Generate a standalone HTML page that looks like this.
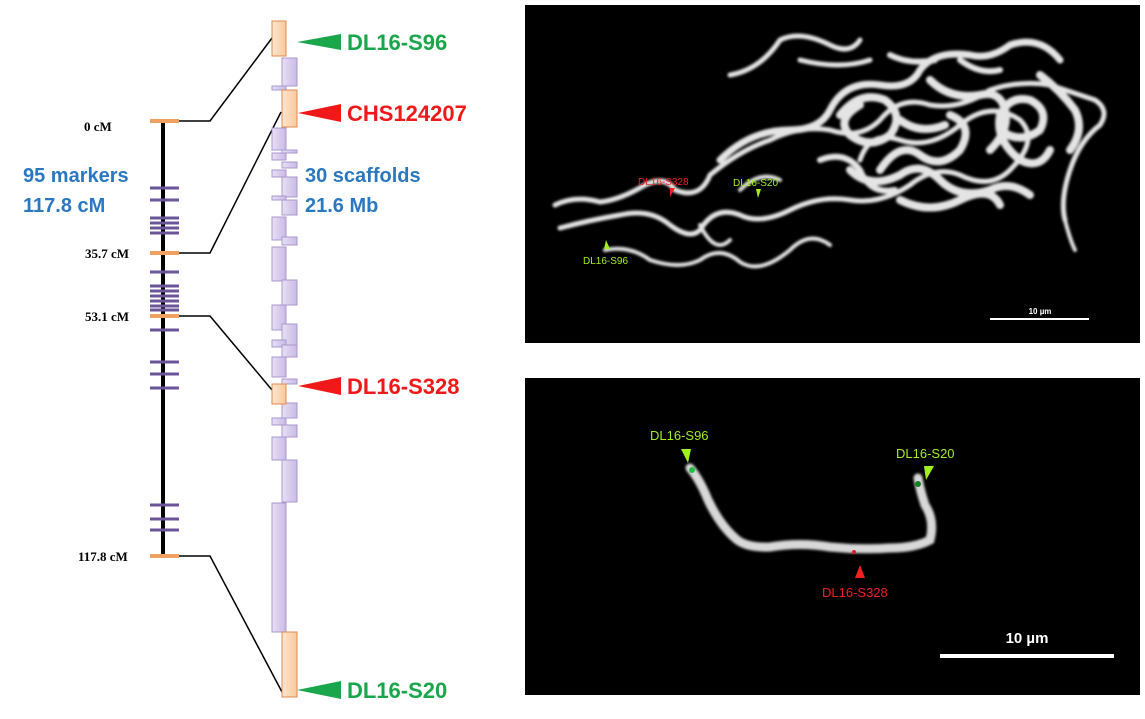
<!DOCTYPE html>
<html><head><meta charset="utf-8"><style>
html,body{margin:0;padding:0;background:#fff;width:1145px;height:719px;overflow:hidden}
svg{display:block}
.t{font-family:"Liberation Sans",sans-serif;font-weight:bold}
.s{font-family:"Liberation Serif",serif;font-weight:bold;font-size:13px}
</style></head><body>
<svg width="1145" height="719" viewBox="0 0 1145 719" xmlns="http://www.w3.org/2000/svg">
<defs>
<linearGradient id="pg" x1="0" x2="1"><stop offset="0" stop-color="#e8e0f5"/><stop offset="1" stop-color="#c9b9e6"/></linearGradient>
<linearGradient id="og" x1="0" x2="1"><stop offset="0" stop-color="#fde6d0"/><stop offset="1" stop-color="#f9c89c"/></linearGradient>
<filter id="bl"><feGaussianBlur stdDeviation="1.2"/></filter>
</defs>
<line x1="163" y1="121" x2="163" y2="556" stroke="#000" stroke-width="4"/>
<g stroke="#6a559a" stroke-width="3">
<line x1="150" y1="188" x2="179" y2="188"/><line x1="150" y1="200" x2="179" y2="200"/>
<line x1="150" y1="218" x2="179" y2="218"/><line x1="150" y1="223" x2="179" y2="223"/><line x1="150" y1="228" x2="179" y2="228"/><line x1="150" y1="233" x2="179" y2="233"/>
<line x1="150" y1="272" x2="179" y2="272"/><line x1="150" y1="286" x2="179" y2="286"/><line x1="150" y1="291" x2="179" y2="291"/><line x1="150" y1="296" x2="179" y2="296"/><line x1="150" y1="301" x2="179" y2="301"/><line x1="150" y1="306" x2="179" y2="306"/><line x1="150" y1="310" x2="179" y2="310"/><line x1="150" y1="330" x2="179" y2="330"/>
<line x1="150" y1="362" x2="179" y2="362"/><line x1="150" y1="374" x2="179" y2="374"/><line x1="150" y1="388" x2="179" y2="388"/>
<line x1="150" y1="505" x2="179" y2="505"/><line x1="150" y1="519" x2="179" y2="519"/><line x1="150" y1="530" x2="179" y2="530"/>
</g>
<g stroke="#f0a060" stroke-width="4">
<line x1="150" y1="121" x2="179" y2="121"/><line x1="150" y1="253" x2="179" y2="253"/><line x1="150" y1="316" x2="179" y2="316"/><line x1="150" y1="556" x2="179" y2="556"/>
</g>
<text class="s" x="84" y="131">0 cM</text>
<text class="s" x="85" y="258">35.7 cM</text>
<text class="s" x="85" y="321">53.1 cM</text>
<text class="s" x="78" y="561">117.8 cM</text>
<text class="t" x="23" y="182" font-size="20" fill="#2a78c0">95 markers</text>
<text class="t" x="23" y="212" font-size="20" fill="#2a78c0">117.8 cM</text>
<text class="t" x="305" y="182" font-size="20" fill="#2a78c0">30 scaffolds</text>
<text class="t" x="305" y="212" font-size="20" fill="#2a78c0">21.6 Mb</text>
<g stroke="#000" stroke-width="1.5" fill="none">
<polyline points="179,121 210,121 272,38"/>
<polyline points="179,253 210,253 281,112"/>
<polyline points="179,316 210,316 272,390"/>
<polyline points="179,556 210,556 282,692"/>
</g>
<g stroke="#a898cc" stroke-width="1" fill="url(#pg)">
<rect x="282" y="58" width="15" height="28"/><rect x="272" y="86" width="14" height="4"/>
<rect x="272" y="128" width="14" height="22"/><rect x="282" y="150" width="15" height="3"/><rect x="272" y="153" width="14" height="7"/>
<rect x="282" y="162" width="15" height="6"/><rect x="272" y="170" width="14" height="7"/><rect x="282" y="177" width="15" height="20"/>
<rect x="272" y="196" width="14" height="4"/><rect x="282" y="200" width="15" height="15"/><rect x="272" y="217" width="14" height="23"/>
<rect x="282" y="237" width="15" height="8"/><rect x="272" y="247" width="14" height="34"/><rect x="282" y="280" width="15" height="25"/>
<rect x="272" y="305" width="14" height="25"/><rect x="282" y="324" width="15" height="21"/><rect x="272" y="340" width="14" height="7"/>
<rect x="282" y="345" width="15" height="12"/><rect x="272" y="357" width="14" height="20"/><rect x="282" y="379" width="15" height="5"/>
<rect x="282" y="403" width="15" height="15"/><rect x="272" y="418" width="14" height="7"/><rect x="282" y="425" width="15" height="12"/>
<rect x="272" y="437" width="14" height="23"/><rect x="282" y="460" width="15" height="42"/><rect x="272" y="503" width="14" height="129"/>
</g>
<g stroke="#e08a50" stroke-width="1" fill="url(#og)">
<rect x="272" y="21" width="14" height="35"/><rect x="282" y="90" width="15" height="37"/>
<rect x="272" y="384" width="14" height="20"/><rect x="282" y="632" width="15" height="65"/>
</g>
<polygon points="297,42 341,34 341,50" fill="#1aa64a"/>
<text class="t" x="347" y="50" font-size="22" fill="#1aa64a">DL16-S96</text>
<polygon points="298,113 341,104 341,122" fill="#f01818"/>
<text class="t" x="347" y="121" font-size="22" fill="#f01818">CHS124207</text>
<polygon points="298,386 341,377 341,395" fill="#f01818"/>
<text class="t" x="347" y="394" font-size="22" fill="#f01818">DL16-S328</text>
<polygon points="297,690 341,681 341,699" fill="#1aa64a"/>
<text class="t" x="347" y="698" font-size="22" fill="#1aa64a">DL16-S20</text>
<rect x="525" y="5" width="615" height="338" fill="#000"/>
<g fill="none" stroke="#e4e4e4" stroke-linecap="round" stroke-linejoin="round" filter="url(#bl)">
<path stroke-width="5" d="M555,205 Q575,195 600,202 Q620,200 645,185 Q665,175 675,190 Q700,200 710,175 Q740,150 770,140 Q800,125 830,130 Q860,140 880,120 Q900,95 930,105 Q960,110 990,90 Q1020,80 1050,85 Q1080,95 1095,100 Q1110,110 1100,125 Q1080,140 1070,170 Q1060,200 1065,220"/>
<path stroke-width="5" d="M560,228 Q590,220 620,215 Q650,208 670,225 Q690,240 700,230 Q715,205 740,215 Q760,225 790,210 Q820,195 850,200 Q880,205 910,185 Q935,165 960,175 Q990,190 1010,170 Q1040,140 1020,120 Q990,100 960,125 Q930,150 900,140 Q870,130 860,160"/>
<path stroke-width="7" d="M720,160 Q750,130 790,130 Q820,130 830,110 Q845,80 880,85 Q910,90 920,70 Q935,50 970,55 Q990,60 1010,45 Q1040,35 1060,60"/>
<path stroke-width="8" d="M840,115 Q860,90 885,100 Q905,115 890,135 Q870,150 850,135 Q835,120 860,105 M1000,130 Q1020,145 1040,130 Q1050,110 1030,100 Q1010,95 1000,115 Q995,140 1020,160 Q1040,170 1050,150"/>
<path stroke-width="5" d="M730,75 Q760,70 780,40 Q800,30 830,45 Q850,55 860,40 M800,60 Q840,70 870,60"/>
<path stroke-width="4" d="M605,250 Q630,245 650,260 Q680,270 700,260 Q720,245 740,262 Q760,275 790,250 Q810,230 830,245 M740,190 Q760,170 780,180 M700,225 Q715,255 730,240"/>
<path stroke-width="8" d="M880,170 Q900,140 920,155 Q940,170 960,150 Q975,125 950,115 M900,200 Q930,215 960,200 Q990,185 1000,205"/>
<path stroke-width="8" d="M850,170 Q870,190 900,175 Q920,160 940,180 Q960,200 990,190 Q1010,180 1030,195 M930,80 Q950,100 980,95 Q1000,90 1005,110 Q1010,130 990,150 M900,120 Q920,135 945,125 M1040,75 Q1060,90 1075,110 Q1085,130 1070,150"/>
<path stroke-width="6" d="M960,60 Q980,75 1000,70 M890,55 Q910,65 935,60 M820,160 Q845,150 860,170 Q870,195 895,190"/>
<path stroke-width="4" d="M1065,220 Q1070,240 1075,250"/>
</g>
<line x1="990" y1="319" x2="1089" y2="319" stroke="#fff" stroke-width="2"/>
<text x="1040" y="314" text-anchor="middle" font-family="Liberation Sans,sans-serif" font-size="8" font-weight="bold" fill="#fff">10 µm</text>
<text x="638" y="185" font-family="Liberation Sans,sans-serif" font-size="10" fill="#f02020">DL16-S328</text>
<polygon points="670,188 675,188 670,197" fill="#f02020"/>
<text x="733" y="186" font-family="Liberation Sans,sans-serif" font-size="10" fill="#a0f020">DL16-S20</text>
<polygon points="756,189 761,189 758,198" fill="#a0f020"/>
<text x="583" y="264" font-family="Liberation Sans,sans-serif" font-size="10" fill="#a0f020">DL16-S96</text>
<polygon points="606,240 610,249 604,249" fill="#a0f020"/>
<rect x="525" y="378" width="615" height="317" fill="#000"/>
<path d="M690,468 Q700,480 708,500 Q720,525 735,538 Q745,548 770,547 Q800,542 830,547 Q860,550 890,548 Q915,548 930,540 Q935,520 925,505 Q920,490 918,478" fill="none" stroke="#d8d8d8" stroke-width="9" stroke-linecap="round" filter="url(#bl)"/>
<circle cx="692" cy="470" r="3" fill="#20c040"/>
<circle cx="918" cy="484" r="3" fill="#108020"/>
<circle cx="854" cy="552" r="2" fill="#e02020"/>
<text x="650" y="440" font-family="Liberation Sans,sans-serif" font-size="13" fill="#a0f020">DL16-S96</text>
<polygon points="681,449 691,449 688,463" fill="#a0f020"/>
<text x="896" y="458" font-family="Liberation Sans,sans-serif" font-size="13" fill="#a0f020">DL16-S20</text>
<polygon points="924,466 934,466 926,480" fill="#a0f020"/>
<text x="822" y="597" font-family="Liberation Sans,sans-serif" font-size="13" fill="#f02020">DL16-S328</text>
<polygon points="860,565 855,578 865,578" fill="#f02020"/>
<line x1="940" y1="656" x2="1114" y2="656" stroke="#fff" stroke-width="4"/>
<text x="1027" y="643" text-anchor="middle" font-family="Liberation Sans,sans-serif" font-size="15" font-weight="bold" fill="#fff">10 µm</text>
</svg>
</body></html>
